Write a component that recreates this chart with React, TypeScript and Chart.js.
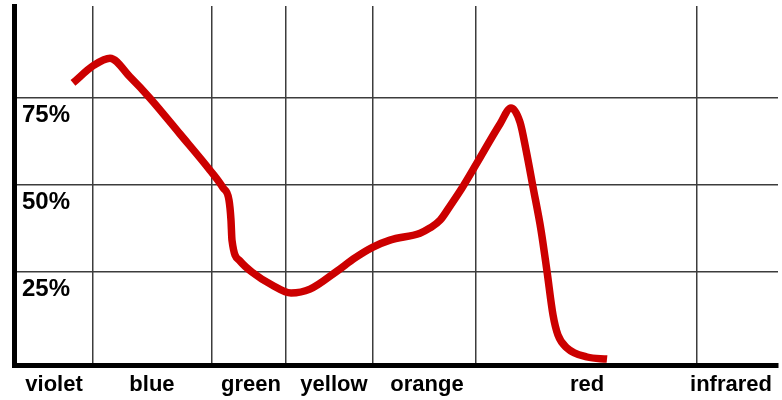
import React, { useEffect, useRef } from "react";
import { Chart, registerables } from "chart.js";

Chart.register(...registerables);

// Spectrum position (0–100 across the axis) and relative value (%) of the curve
const curveX = [
  7.72, 10.47, 12.57, 15.18, 17.8, 21.73, 25.65, 27.36, 28.14, 28.4, 28.53,
  29.58, 31.15, 33.77, 36.26, 38.74, 42.28, 44.63, 46.99, 49.21, 53.14, 54.45,
  55.76, 57.07, 58.64, 60.6, 63.61, 65.05, 66.23, 67.02, 67.93, 68.98, 69.76,
  70.55, 71.2, 72.38, 75.0, 77.62,
];
const curveY = [
  79.4, 84.5, 86.5, 81.1, 75.0, 64.7, 54.3, 49.2, 45.7, 40.0, 34.2,
  28.2, 25.0, 21.3, 19.0, 20.1, 25.3, 29.1, 32.2, 34.2, 36.2, 37.7,
  39.9, 44.0, 49.2, 56.4, 67.6, 72.2, 68.1, 60.1, 49.5, 37.1, 25.3,
  12.7, 6.9, 3.2, 0.6, 0.0,
];

// Band boundaries (vertical grid lines) and band label positions on the x axis
const bandEdges = [10.34, 25.92, 35.6, 46.99, 60.47, 89.4];
const bandCenters = [5.24, 18.06, 31.02, 41.88, 54.06, 75.0, 93.85];
const bandNames = ["violet", "blue", "green", "yellow", "orange", "red", "infrared"];

// Percentage ticks
const yTicks = [25, 50, 75];

export default function App() {
  const canvasRef = useRef<HTMLCanvasElement | null>(null);

  useEffect(() => {
    if (!canvasRef.current) return;
    const points = curveX.map((x, i) => ({ x, y: curveY[i] }));
    const xTickValues = [...bandEdges, ...bandCenters].sort((a, b) => a - b);
    const gridColor = "#3c3c3c";

    const chart = new Chart(canvasRef.current, {
      type: "line",
      data: {
        datasets: [
          {
            data: points,
            borderColor: "#cc0000",
            borderWidth: 7.5,
            pointRadius: 0,
            cubicInterpolationMode: "monotone",
            fill: false,
          },
        ],
      },
      options: {
        animation: false,
        responsive: true,
        maintainAspectRatio: false,
        layout: { padding: { top: 6, right: 4, left: 0, bottom: 0 } },
        plugins: {
          legend: { display: false },
          tooltip: { enabled: false },
        },
        scales: {
          x: {
            type: "linear",
            min: 0,
            max: 100,
            afterBuildTicks: (scale: any) => {
              scale.ticks = xTickValues.map((v) => ({ value: v }));
            },
            afterFit: (scale: any) => {
              scale.height = 35;
              scale.paddingLeft = 0;
              scale.paddingRight = 0;
              scale.paddingTop = 0;
              scale.paddingBottom = 0;
            },
            grid: {
              drawTicks: false,
              lineWidth: 1.5,
              color: (ctx: any) =>
                ctx.tick && bandEdges.includes(ctx.tick.value) ? gridColor : "rgba(0,0,0,0)",
            },
            border: { display: true, color: "#000", width: 5 },
            ticks: {
              autoSkip: false,
              maxRotation: 0,
              padding: 7,
              color: "#000",
              font: { family: "'Liberation Sans', Arial, sans-serif", size: 22, weight: "bold" },
              callback: (value: any) => {
                const i = bandCenters.indexOf(Number(value));
                return i >= 0 ? bandNames[i] : "";
              },
            },
          },
          y: {
            type: "linear",
            min: -1.7,
            max: 101.5,
            afterBuildTicks: (scale: any) => {
              scale.ticks = yTicks.map((v) => ({ value: v }));
            },
            afterFit: (scale: any) => {
              scale.width = 14;
              scale.paddingLeft = 0;
              scale.paddingRight = 0;
              scale.paddingTop = 0;
              scale.paddingBottom = 0;
            },
            grid: { drawTicks: false, lineWidth: 1.5, color: gridColor },
            border: { display: true, color: "#000", width: 5 },
            ticks: {
              mirror: true,
              padding: 8,
              labelOffset: 17,
              color: "#000",
              font: { family: "'Liberation Sans', Arial, sans-serif", size: 24, weight: "bold" },
              callback: (value: any) => `${value}%`,
            },
          },
        },
      },
    });
    return () => chart.destroy();
  }, []);

  return (
    <div style={{ position: "fixed", left: 0, top: 0, width: 782, height: 400, background: "#fff" }}>
      <canvas ref={canvasRef} />
    </div>
  );
}
